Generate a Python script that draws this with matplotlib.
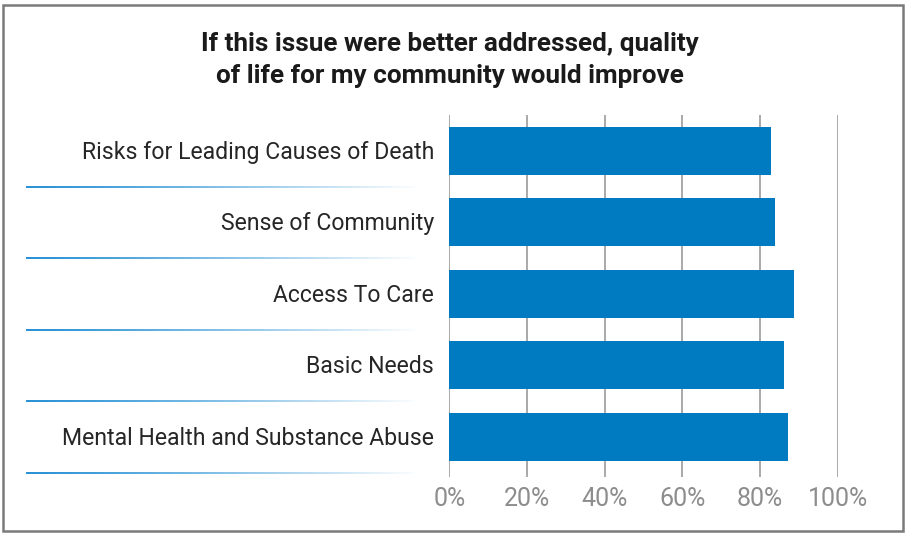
import numpy as np
import matplotlib
matplotlib.use("Agg")
import matplotlib.pyplot as plt
from matplotlib.collections import LineCollection
from matplotlib.transforms import blended_transform_factory
from matplotlib.patches import Rectangle

categories = ["Risks for Leading Causes of Death", "Sense of Community",
              "Access To Care", "Basic Needs", "Mental Health and Substance Abuse"]
values = [82.8, 83.9, 88.7, 86.2, 87.2]
xticks = [0, 20, 40, 60, 80, 100]
xticklabels = ["0%", "20%", "40%", "60%", "80%", "100%"]
title = "If this issue were better addressed, quality\nof life for my community would improve"

FONT = ["Roboto", "DejaVu Sans"]
BLUE = "#007bc2"

W, H = 905, 533
fig = plt.figure(figsize=(W / 100, H / 100), dpi=100)
ax = fig.add_axes([449.3 / W, 1 - 477 / H, 388.4 / W, 362 / H])

y = np.arange(len(categories))
ax.barh(y, values, height=0.67, color=BLUE, zorder=3)
ax.set_xlim(0, 100)
ax.set_ylim(4.56, -0.5)

for t in xticks:
    ax.axvline(t, color="#a3a3a3", lw=1.3, zorder=1)

ax.set_xticks(xticks)
ax.set_xticklabels(xticklabels, fontsize=18, color="#8d8d8d", family=FONT,
                   fontweight="normal")
ax.tick_params(axis="x", length=0, pad=7)
ax.set_yticks([])
for s in ax.spines.values():
    s.set_visible(False)

# category labels
tr_lab = blended_transform_factory(fig.transFigure, ax.transData)
for yi, c in zip(y, categories):
    ax.text(434 / W, yi + 0.02, c, transform=tr_lab, ha="right", va="center",
            fontsize=16.6, color="#262626", family=FONT, fontweight="normal",
            clip_on=False)

# gradient separators
x0, x1 = 26 / W, 422 / W
n = 80
xs = np.linspace(x0, x1, n + 1)
for yb in np.arange(len(categories)) + 0.5:
    segs = [[(xs[i], yb), (xs[i + 1], yb)] for i in range(n)]
    frac = np.linspace(0, 1, n)
    alpha = np.clip(1 - frac ** 1.2, 0, 1)
    cols = [(0.08, 0.53, 0.82, a) for a in alpha]
    lc = LineCollection(segs, colors=cols, linewidths=1.3, transform=tr_lab,
                        clip_on=False)
    ax.add_collection(lc)

# title
fig.text(0.497, 1 - 60 / H, title, ha="center", va="center", fontsize=18.8,
         fontweight="bold", color="#1a1a1a", family=FONT, linespacing=1.42)

# border
fig.patches.append(Rectangle((3 / W, 2 / H), 900 / W, 526 / H,
                             transform=fig.transFigure, fill=False,
                             edgecolor="#7a7a7a", lw=1.8))

fig.savefig("out.png", dpi=100)
